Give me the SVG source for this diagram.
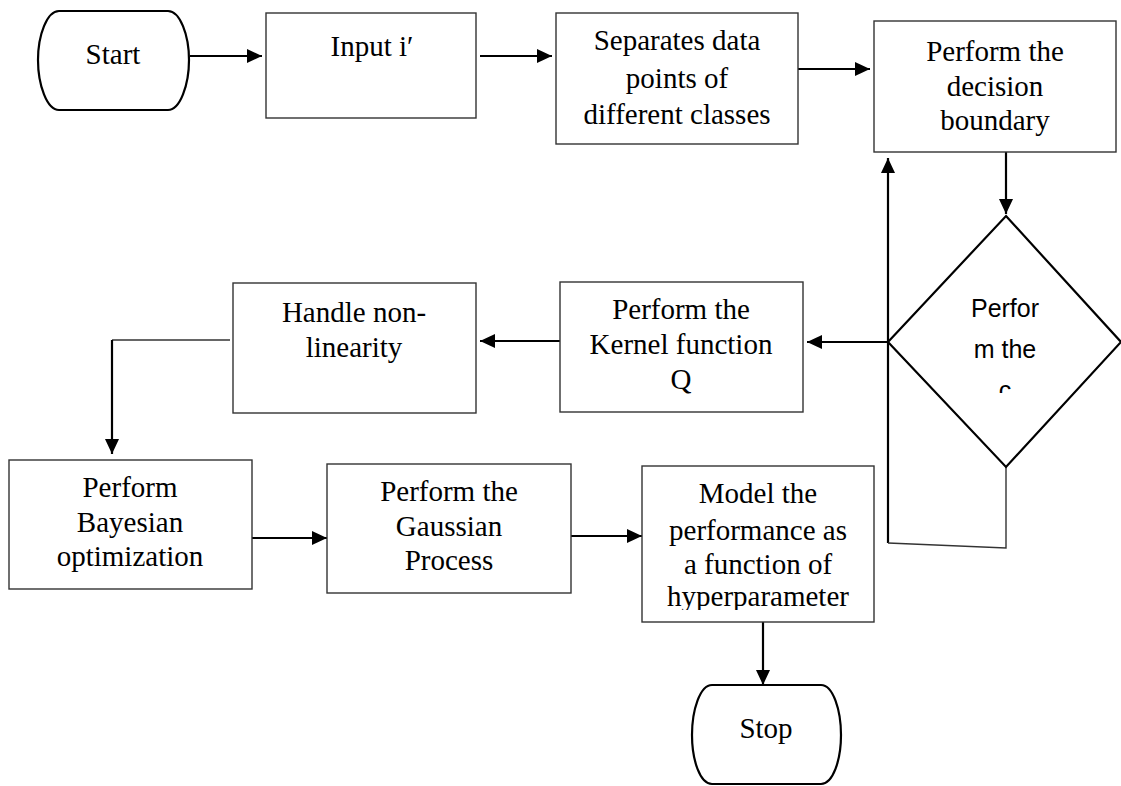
<svg xmlns="http://www.w3.org/2000/svg" width="1121" height="786" viewBox="0 0 1121 786">
<style>
.box{fill:#fff;stroke:#333;stroke-width:1.4}
.term{fill:#fff;stroke:#000;stroke-width:2.2}
.t{font-family:"Liberation Serif","Times New Roman",serif;font-size:29px;fill:#000;text-anchor:middle}
.s{font-family:"Liberation Sans",Arial,sans-serif;font-size:25px;fill:#000;text-anchor:middle}
.a{fill:none;stroke:#000;stroke-width:2.2}
.thin{fill:none;stroke:#333;stroke-width:1.4}
</style>
<defs>
<marker id="ah" markerUnits="userSpaceOnUse" markerWidth="16" markerHeight="14" refX="15" refY="7" orient="auto">
<path d="M0,0 L15,7 L0,14 Z" fill="#000"/>
</marker>
<clipPath id="cm"><rect x="642" y="466" width="232" height="144"/></clipPath>
<clipPath id="cd"><rect x="900" y="280" width="210" height="113"/></clipPath>
</defs>
<g id="connectors">
<line class="a" x1="190" y1="56" x2="262" y2="56" marker-end="url(#ah)"/>
<line class="a" x1="480" y1="56" x2="552" y2="56" marker-end="url(#ah)"/>
<line class="a" x1="798" y1="69" x2="870" y2="69" marker-end="url(#ah)"/>
<line class="a" x1="1006" y1="152" x2="1006" y2="214" marker-end="url(#ah)"/>
<line class="a" x1="888" y1="543" x2="888" y2="158" marker-end="url(#ah)"/>
<line class="a" x1="888" y1="342" x2="807" y2="342" marker-end="url(#ah)"/>
<line class="a" x1="560" y1="341" x2="480" y2="341" marker-end="url(#ah)"/>
<polyline class="thin" points="230,340 112,340"/>
<line class="a" x1="112" y1="340" x2="112" y2="454" marker-end="url(#ah)"/>
<line class="a" x1="252" y1="538" x2="327" y2="538" marker-end="url(#ah)"/>
<line class="a" x1="571" y1="536" x2="642" y2="536" marker-end="url(#ah)"/>
<line class="a" x1="763" y1="622" x2="763" y2="685" marker-end="url(#ah)"/>
<polyline class="thin" points="1006,467 1006,548 888,543"/>
</g>
<g id="start">
<path class="term" d="M59,11 H168 C180,11 189,35 189,60 C189,85 180,110 168,110 H59 C47,110 38,85 38,60 C38,35 47,11 59,11 Z"/>
<text class="t" x="113" y="64">Start</text>
</g>
<g id="input">
<rect class="box" x="266" y="13" width="210" height="105"/>
<text class="t" x="372" y="56">Input i′</text>
</g>
<g id="separates">
<rect class="box" x="556" y="13" width="242" height="131"/>
<text class="t" x="677" y="50">Separates data</text>
<text class="t" x="677" y="88">points of</text>
<text class="t" x="677" y="124">different classes</text>
</g>
<g id="decision-boundary">
<rect class="box" x="874" y="21" width="242" height="131"/>
<text class="t" x="995" y="61">Perform the</text>
<text class="t" x="995" y="96">decision</text>
<text class="t" x="995" y="130">boundary</text>
</g>
<g id="condition">
<polygon class="term" points="1006,216 1121,342 1006,467 888,342"/>
<text class="s" x="1005" y="317">Perfor</text>
<text class="s" x="1005" y="358">m the</text>
<text class="s" x="1005" y="399" clip-path="url(#cd)">c</text>
</g>
<g id="kernel">
<rect class="box" x="560" y="282" width="243" height="130"/>
<text class="t" x="681" y="319">Perform the</text>
<text class="t" x="681" y="354">Kernel function</text>
<text class="t" x="681" y="389">Q</text>
</g>
<g id="handle">
<rect class="box" x="233" y="283" width="243" height="130"/>
<text class="t" x="354" y="322">Handle non-</text>
<text class="t" x="354" y="357">linearity</text>
</g>
<g id="bayesian">
<rect class="box" x="9" y="460" width="243" height="129"/>
<text class="t" x="130" y="497">Perform</text>
<text class="t" x="130" y="532">Bayesian</text>
<text class="t" x="130" y="566">optimization</text>
</g>
<g id="gaussian">
<rect class="box" x="327" y="464" width="244" height="129"/>
<text class="t" x="449" y="501">Perform the</text>
<text class="t" x="449" y="536">Gaussian</text>
<text class="t" x="449" y="570">Process</text>
</g>
<g id="model">
<rect class="box" x="642" y="466" width="232" height="156"/>
<g clip-path="url(#cm)">
<text class="t" x="758" y="503">Model the</text>
<text class="t" x="758" y="540">performance as</text>
<text class="t" x="758" y="574">a function of</text>
<text class="t" x="758" y="606">hyperparameter</text>
</g>
</g>
<g id="stop">
<path class="term" d="M712,685 H821 C833,685 841,710 841,735 C841,760 833,784 821,784 H712 C700,784 692,760 692,735 C692,710 700,685 712,685 Z"/>
<text class="t" x="766" y="738">Stop</text>
</g>
</svg>
